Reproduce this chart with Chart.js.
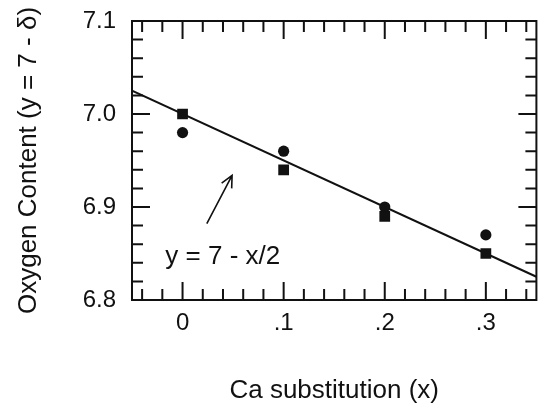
<!DOCTYPE html>
<html>
<head>
<meta charset="utf-8">
<script src="https://cdn.jsdelivr.net/npm/chart.js@4.4.1/dist/chart.umd.min.js"></script>
<style>
  html, body { margin: 0; padding: 0; background: #fff; }
  #wrap { width: 544px; height: 404px; }
</style>
</head>
<body>
<div id="wrap"><canvas id="oxChart" width="544" height="404"></canvas></div>
<script>
'use strict';

// ─── data ───
const caX = [0, 0.1, 0.2, 0.3];
const squareY = [7.00, 6.94, 6.89, 6.85];
const circleY = [6.98, 6.96, 6.90, 6.87];

// y = 7 - x/2 across the whole axis
const fitX = [-0.05, 0.35];
const fitY = [7.025, 6.825];

// arrow pointing at the fit line (data units)
const arrowFrom = [0.024, 6.882];
const arrowTo = [0.049, 6.934];

const xMajorTicks = [0, 0.1, 0.2, 0.3];
const xTickLabels = ['0', '.1', '.2', '.3'];
const xMinorTicks = [-0.04, -0.02, 0.02, 0.04, 0.06, 0.08, 0.12, 0.14, 0.16, 0.18,
  0.22, 0.24, 0.26, 0.28, 0.32, 0.34];

const yMajorTicks = [6.8, 6.9, 7.0, 7.1];
const yTickLabels = ['6.8', '6.9', '7.0', '7.1'];
const yMinorTicks = [6.82, 6.84, 6.86, 6.88, 6.92, 6.94, 6.96, 6.98,
  7.02, 7.04, 7.06, 7.08];

const INK = '#111';
const FONT = "'Liberation Sans', Arial, Helvetica, sans-serif";

const toPoints = (xs, ys) => xs.map((x, i) => ({ x, y: ys[i] }));

// frame, inward ticks on all four sides, arrow and equation label
const frameTicks = {
  id: 'frameTicks',
  afterDatasetsDraw(chart) {
    const { ctx, chartArea: a, scales: { x, y } } = chart;
    const MAJOR = 18, MINOR = 11;
    ctx.save();
    ctx.strokeStyle = INK;
    ctx.lineWidth = 2;
    ctx.lineCap = 'butt';

    ctx.beginPath();
    const tickX = (v, len) => {
      const px = x.getPixelForValue(v);
      ctx.moveTo(px, a.bottom); ctx.lineTo(px, a.bottom - len);
      ctx.moveTo(px, a.top); ctx.lineTo(px, a.top + len);
    };
    const tickY = (v, len) => {
      const py = y.getPixelForValue(v);
      ctx.moveTo(a.left, py); ctx.lineTo(a.left + len, py);
      ctx.moveTo(a.right, py); ctx.lineTo(a.right - len, py);
    };
    xMajorTicks.forEach(v => tickX(v, MAJOR));
    xMinorTicks.forEach(v => tickX(v, MINOR));
    yMajorTicks.forEach(v => tickY(v, MAJOR));
    yMinorTicks.forEach(v => tickY(v, MINOR));
    ctx.stroke();

    ctx.strokeRect(a.left, a.top, a.right - a.left, a.bottom - a.top);

    // arrow
    const x0 = x.getPixelForValue(arrowFrom[0]), y0 = y.getPixelForValue(arrowFrom[1]);
    const x1 = x.getPixelForValue(arrowTo[0]), y1 = y.getPixelForValue(arrowTo[1]);
    const ang = Math.atan2(y1 - y0, x1 - x0);
    const head = 13, spread = 0.45;
    ctx.lineWidth = 1.6;
    ctx.beginPath();
    ctx.moveTo(x0, y0); ctx.lineTo(x1, y1);
    ctx.moveTo(x1 - head * Math.cos(ang - spread), y1 - head * Math.sin(ang - spread));
    ctx.lineTo(x1, y1);
    ctx.lineTo(x1 - head * Math.cos(ang + spread), y1 - head * Math.sin(ang + spread));
    ctx.stroke();

    // equation
    ctx.fillStyle = INK;
    ctx.font = `26px ${FONT}`;
    ctx.textAlign = 'left';
    ctx.textBaseline = 'alphabetic';
    ctx.fillText('y = 7 - x/2', x.getPixelForValue(-0.017), y.getPixelForValue(6.839));
    ctx.restore();
  }
};

const ctx = document.getElementById('oxChart').getContext('2d');

new Chart(ctx, {
  type: 'scatter',
  data: {
    datasets: [
      {
        label: 'fit',
        data: toPoints(fitX, fitY),
        showLine: true,
        borderColor: INK,
        borderWidth: 2,
        pointRadius: 0,
        tension: 0,
        order: 3,
      },
      {
        label: 'squares',
        data: toPoints(caX, squareY),
        pointStyle: 'rect',
        pointRadius: 7.6,
        backgroundColor: INK,
        borderColor: INK,
        borderWidth: 0,
        order: 2,
      },
      {
        label: 'circles',
        data: toPoints(caX, circleY),
        pointStyle: 'circle',
        pointRadius: 5.6,
        backgroundColor: INK,
        borderColor: INK,
        borderWidth: 0,
        order: 1,
      },
    ],
  },
  options: {
    responsive: false,
    animation: false,
    events: [],
    layout: { padding: { left: 0, top: 21, right: 2, bottom: 0 } },
    plugins: {
      legend: { display: false },
      tooltip: { enabled: false },
    },
    scales: {
      x: {
        type: 'linear',
        min: -0.05,
        max: 0.35,
        grid: { display: false, drawTicks: false },
        border: { display: false },
        afterBuildTicks: s => { s.ticks = xMajorTicks.map(v => ({ value: v })); },
        afterFit: s => { s.height = 104; },
        ticks: {
          color: INK,
          padding: 9,
          maxRotation: 0,
          font: { family: FONT, size: 24 },
          callback: (v, i) => xTickLabels[i],
        },
        title: {
          display: true,
          text: 'Ca substitution (x)',
          color: INK,
          padding: { top: 0, bottom: 0 },
          font: { family: FONT, size: 26, lineHeight: 1 },
        },
      },
      y: {
        type: 'linear',
        min: 6.8,
        max: 7.1,
        grid: { display: false, drawTicks: false },
        border: { display: false },
        afterBuildTicks: s => { s.ticks = yMajorTicks.map(v => ({ value: v })); },
        afterFit: s => {
          s.width = 132;
          s.paddingTop = 0;
          s.paddingBottom = 0;
        },
        ticks: {
          color: INK,
          padding: 16,
          font: { family: FONT, size: 24 },
          callback: (v, i) => yTickLabels[i],
        },
        title: {
          display: true,
          text: 'Oxygen Content (y = 7 - δ)',
          color: INK,
          padding: { top: 13, bottom: 0 },
          font: { family: FONT, size: 26 },
        },
      },
    },
  },
  plugins: [frameTicks],
});
</script>
</body>
</html>
